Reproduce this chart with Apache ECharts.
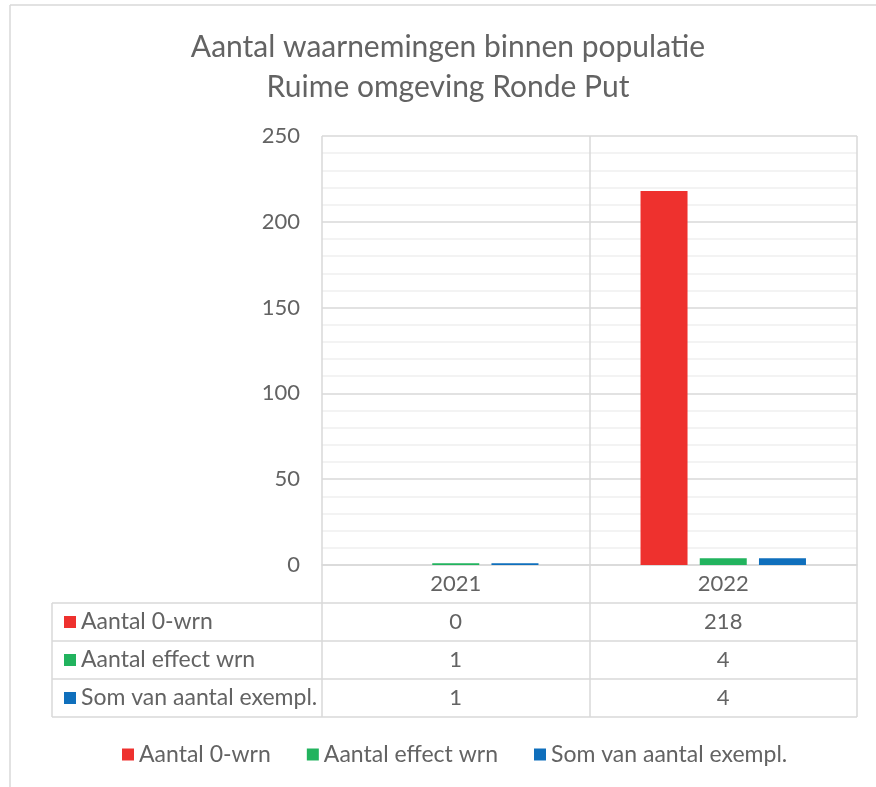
<!DOCTYPE html>
<html>
<head>
<meta charset="utf-8">
<script src="https://cdn.jsdelivr.net/npm/echarts@6/dist/echarts.min.js"></script>
<style>
  html, body { margin: 0; padding: 0; background: #fff; }
  #main { width: 876px; height: 787px; }
</style>
</head>
<body>
<div id="main"></div>
<script>
// data
var years = ['2021', '2022'];
var seriesNames = ['Aantal 0-wrn', 'Aantal effect wrn', 'Som van aantal exempl.'];
var nulWrn = [0, 218];
var effectWrn = [1, 4];
var somExempl = [1, 4];
var colors = ['#ee312e', '#22b35e', '#0f6fbc'];

var font = 'Lato';
var fs = 22;
var txt = '#636363';
var line = '#d9d9d9';

// grid geometry (pixels)
var gLeft = 322, gRight = 857, gTop = 136, gBottom = 565;
var rowH = 38;
var tableLeft = 52;

var chart = echarts.init(document.getElementById('main'));

var allValues = [nulWrn, effectWrn, somExempl];

// category axes: the first one holds the years, the others are the data table rows
var xAxes = [{
  type: 'category',
  data: years,
  gridIndex: 0,
  position: 'bottom',
  axisLine: { lineStyle: { color: line, width: 1.5 } },
  axisTick: { show: true, length: rowH, lineStyle: { color: line, width: 1.5 } },
  axisLabel: { color: txt, fontFamily: font, fontSize: fs, margin: 8 },
  splitLine: { show: true, lineStyle: { color: line, width: 1.5 } }
}];
allValues.forEach(function (vals, i) {
  xAxes.push({
    type: 'category',
    data: vals.map(String),
    gridIndex: 0,
    position: 'bottom',
    offset: rowH * (i + 1),
    axisLine: { show: false },
    axisTick: { show: true, length: rowH, lineStyle: { color: line, width: 1.5 } },
    axisLabel: { color: txt, fontFamily: font, fontSize: fs, margin: 8 }
  });
});

// table lines & row headers
var graphics = [];
for (var r = 1; r <= 4; r++) {
  graphics.push({
    type: 'line',
    shape: { x1: tableLeft, y1: gBottom + rowH * r, x2: gRight, y2: gBottom + rowH * r },
    style: { stroke: line, lineWidth: 1.5 }
  });
}
graphics.push({
  type: 'line',
  shape: { x1: tableLeft, y1: gBottom + rowH, x2: tableLeft, y2: gBottom + rowH * 4 },
  style: { stroke: line, lineWidth: 1.5 }
});
seriesNames.forEach(function (name, i) {
  var cy = gBottom + rowH * (i + 1) + rowH / 2;
  graphics.push({
    type: 'rect',
    shape: { x: 64, y: cy - 6, width: 12, height: 12 },
    style: { fill: colors[i] }
  });
  graphics.push({
    type: 'text',
    x: 81, y: cy,
    style: { text: name, fill: txt, font: '23px "' + font + '"', textVerticalAlign: 'middle' }
  });
});
// chart area border (top and left)
graphics.push({
  type: 'line',
  shape: { x1: 10, y1: 5, x2: 876, y2: 5 },
  style: { stroke: line, lineWidth: 1.5 }
});
graphics.push({
  type: 'line',
  shape: { x1: 10, y1: 5, x2: 10, y2: 787 },
  style: { stroke: line, lineWidth: 1.5 }
});

var option = {
  backgroundColor: '#fff',
  animation: false,
  color: colors,
  title: {
    text: 'Aantal waarnemingen binnen populatie\nRuime omgeving Ronde Put',
    left: 443,
    textAlign: 'center',
    top: 22,
    textStyle: { color: txt, fontFamily: font, fontSize: 30, fontWeight: 'normal', lineHeight: 40 }
  },
  legend: {
    data: seriesNames,
    top: 738,
    left: 117,
    icon: 'rect',
    itemWidth: 12,
    itemHeight: 12,
    itemGap: 36,
    textStyle: { color: txt, fontFamily: font, fontSize: 23 }
  },
  grid: {
    left: gLeft,
    right: 876 - gRight,
    top: gTop,
    bottom: 787 - gBottom
  },
  xAxis: xAxes,
  yAxis: {
    type: 'value',
    min: 0,
    max: 250,
    interval: 50,
    axisLine: { show: false },
    axisTick: { show: false },
    axisLabel: { color: txt, fontFamily: font, fontSize: fs, margin: 22 },
    splitLine: { lineStyle: { color: line, width: 1.5 } },
    minorTick: { show: false, splitNumber: 5 },
    minorSplitLine: { show: true, lineStyle: { color: '#f0f0f0', width: 1.5 } }
  },
  series: [
    { name: seriesNames[0], type: 'bar', data: nulWrn, barWidth: 47, barGap: '26%' },
    { name: seriesNames[1], type: 'bar', data: effectWrn, barWidth: 47, barGap: '26%' },
    { name: seriesNames[2], type: 'bar', data: somExempl, barWidth: 47, barGap: '26%' }
  ],
  graphic: graphics
};

chart.setOption(option);
</script>
</body>
</html>
